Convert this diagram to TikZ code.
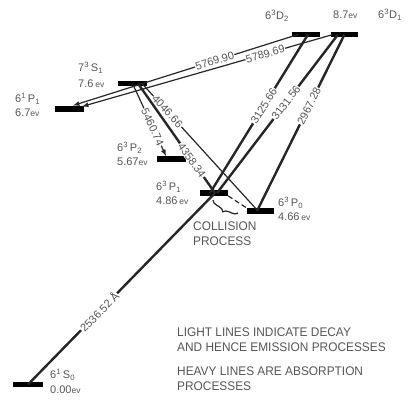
\documentclass[tikz,border=0pt]{standalone}
\usepackage{fontspec}
\setmainfont{Liberation Sans}
\newfontfamily\capsfont[FakeStretch=0.95]{Liberation Sans}
\usetikzlibrary{decorations.pathreplacing}
\definecolor{inkgray}{RGB}{85,85,85}
\newcommand{\evtxt}{{\fontsize{8.5}{9}\selectfont ev}}

\begin{document}
\begin{tikzpicture}[x=1pt,y=-1pt,
  level/.style={fill=black,inner sep=0pt,minimum height=5.5pt,minimum width=28pt},
  lightline/.style={line width=1.2pt,draw=black!85},
  heavyline/.style={line width=2.4pt,draw=black!85},
  wave/.style={sloped,fill=white,inner sep=0.6pt,text=inkgray,font=\fontsize{11}{12}\selectfont},
  lvltxt/.style={anchor=north west,align=left,inner sep=0pt,text=inkgray,font=\fontsize{11}{14}\selectfont},
  note/.style={anchor=north west,align=left,inner sep=0pt,text=inkgray,font=\capsfont\fontsize{12.5}{14.5}\selectfont}]
\useasboundingbox (0,0) rectangle (414,400);

\node[level] (d2) at (306,34.5) {};
\node[level,minimum width=27pt] (d1) at (344.5,34.5) {};
\node[level,minimum width=29pt] (s1) at (132.5,83.5) {};
\node[level,minimum width=29pt] (p1s) at (69.5,109) {};
\node[level,minimum width=29pt] (p2) at (171.5,159) {};
\node[level] (p1t) at (214,193) {};
\node[level,minimum width=27pt] (p0) at (260.5,211) {};
\node[level,minimum width=30pt] (s0) at (28,384.5) {};

\node[lvltxt] (d2lbl) at (265,10) {6\textsuperscript{3}D\textsubscript{2}};
\node[lvltxt] (d1ev) at (333,11) {8.7\evtxt};
\node[lvltxt] (d1lbl) at (378,9) {6\textsuperscript{3}D\textsubscript{1}};
\node[lvltxt] (s1lbl) at (78,62) {7\textsuperscript{3}\,S\textsubscript{1}\\[2pt]7.6\,\evtxt};
\node[lvltxt] (p1slbl) at (15,93) {6\textsuperscript{1}\,P\textsubscript{1}\\6.7\evtxt};
\node[lvltxt] (p2lbl) at (117,142) {6\textsuperscript{3}\,P\textsubscript{2}\\5.67\evtxt};
\node[lvltxt] (p1tlbl) at (156,181) {6\textsuperscript{3}\,P\textsubscript{1}\\4.86\,\evtxt};
\node[lvltxt] (p0lbl) at (278,197) {6\textsuperscript{3}\,P\textsubscript{0}\\4.66\,\evtxt};
\node[lvltxt] (s0lbl) at (50,369) {6\textsuperscript{1}\,S\textsubscript{0}\\[1pt]0.00\evtxt};

\draw[lightline,-latex] ([xshift=-8pt]d2.center) -- node[wave,pos=0.37] {5769.90} ([xshift=3.5pt,yshift=3.5pt]p1s.center);
\draw[lightline,-latex] ([xshift=-11.5pt]d1.center) -- node[wave,pos=0.27] {5789.69} ([xshift=12.5pt,yshift=2.5pt]p1s.center);
\draw[lightline,-latex] (s1.center) -- node[wave,pos=0.6] {5460.74} ([xshift=-5.5pt,yshift=3pt]p2.center);
\draw[lightline] ([xshift=9.5pt]s1.center) -- node[wave,pos=0.22] {4046.66} ([xshift=-2.5pt]p0.center);
\draw[heavyline] ([xshift=5.5pt]s1.center) -- node[wave,pos=0.7] {4358.34} ([xshift=1pt]p1t.center);
\draw[heavyline] ([xshift=-4pt]p1t.center) -- node[wave,pos=0.55] {3125.66} ([xshift=2pt]d2.center);
\draw[heavyline] ([xshift=3pt]p1t.center) -- node[wave,pos=0.57] {3131.56} ([xshift=-6.5pt]d1.center);
\draw[heavyline] ([xshift=-3.5pt]p0.center) -- node[wave,pos=0.595] {2967.28} (d1.center);
\draw[heavyline] (s0.center) -- node[wave,pos=0.38] {2536.52 Å} ([xshift=1pt]p1t.center);
\draw[lightline,dash pattern=on 5pt off 3pt] (p1t.south east) -- (p0.north west);

\coordinate (bra) at (238,213);
\coordinate (brb) at (213,200);
\draw[lightline,line width=1.2pt,decorate,decoration={brace,amplitude=6pt}] (bra) -- (brb);

\node[note] (coll) at (193,222) {COLLISION\\PROCESS};
\node[note] (lightnote) at (177,328) {LIGHT LINES INDICATE DECAY\\AND HENCE EMISSION PROCESSES};
\node[note] (heavynote) at (177,367) {HEAVY LINES ARE ABSORPTION\\PROCESSES};

\end{tikzpicture}
\end{document}
